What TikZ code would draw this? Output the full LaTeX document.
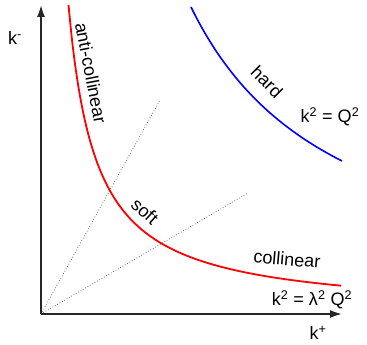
\documentclass[tikz,border=0pt]{standalone}
\usepackage{fontspec}
\setmainfont{Liberation Sans}
\usetikzlibrary{arrows.meta}
\begin{document}
\begin{tikzpicture}[x=1pt,y=-1pt,
  every node/.style={font=\fontsize{18}{21}\selectfont, inner sep=0pt},
  axis/.style={line width=2.6pt, draw=black!85, -{Latex[length=13pt,width=8pt]}},
  guide/.style={dotted, line width=0.7pt, draw=black!70},
  softcurve/.style={draw=red, line width=1.8pt},
  hardcurve/.style={draw=blue, line width=1.6pt}]
\useasboundingbox (0,0) rectangle (367,345);
\coordinate (O) at (41,314);
\coordinate (Ytip) at (41,4);
\coordinate (Xtip) at (343,314);
\coordinate (G1) at (160,100);
\coordinate (G2) at (248,193);
\draw[guide] (O) -- (G1);
\draw[guide] (O) -- (G2);
\draw[softcurve] plot[domain=2.75:30, samples=80, smooth] ({41+10*\x},{314-850/\x});
\draw[hardcurve] plot[domain=15:30.1, samples=60, smooth] ({41+10*\x},{314-4605/\x});
\draw[axis] (O) -- (Ytip);
\draw[axis] (O.center) -- (Xtip);
\node (ky) at (15,38) {k\textsuperscript{-}};
\node (kx) at (318,333) {k\textsuperscript{+}};
\node[rotate=-79] (anti) at (91,73) {anti-collinear};
\node[rotate=-45] (hard) at (267,82) {hard};
\node (hardeq) at (330,117) {k\textsuperscript{2} = Q\textsuperscript{2}};
\node[rotate=-42] (soft) at (145,211) {soft};
\node[rotate=-5] (coll) at (287,259) {collinear};
\node (colleq) at (312,300) {k\textsuperscript{2} = λ\textsuperscript{2} Q\textsuperscript{2}};
\end{tikzpicture}
\end{document}
